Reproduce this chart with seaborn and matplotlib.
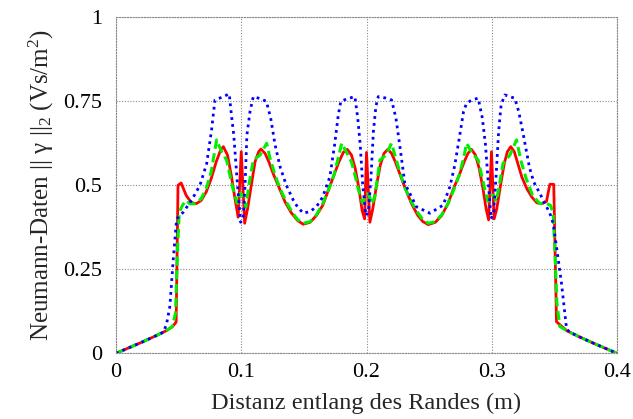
import matplotlib
matplotlib.use('Agg')
import matplotlib.pyplot as plt
import seaborn as sns
import pandas as pd

# Red solid series
red_x = [0, 0.01, 0.02, 0.03, 0.04, 0.045, 0.048, 0.0495, 0.052, 0.056, 0.060, 0.064,
         0.068, 0.072, 0.076, 0.080, 0.0835, 0.0857, 0.089, 0.092, 0.095, 0.0975, 0.1,
         0.1027, 0.105, 0.108, 0.111, 0.1139, 0.1157, 0.119, 0.122, 0.126, 0.130, 0.135,
         0.140, 0.145, 0.1495, 0.155, 0.160, 0.165, 0.170, 0.174, 0.178, 0.1815, 0.1846,
         0.188, 0.191, 0.194, 0.1965, 0.1985, 0.2, 0.2027, 0.205, 0.208, 0.211, 0.214,
         0.217, 0.220, 0.223, 0.227, 0.231, 0.236, 0.241, 0.245, 0.2493, 0.255, 0.260,
         0.265, 0.270, 0.274, 0.278, 0.281, 0.2838, 0.287, 0.290, 0.293, 0.2955, 0.2975,
         0.2998, 0.3019, 0.304, 0.307, 0.310, 0.3125, 0.3152, 0.318, 0.320, 0.324, 0.328,
         0.332, 0.336, 0.340, 0.3437, 0.3464, 0.3495, 0.3517, 0.355, 0.36, 0.37, 0.38,
         0.39, 0.4]
red_y = [0, 0.016, 0.032, 0.049, 0.067, 0.079, 0.093, 0.50, 0.507, 0.47, 0.449, 0.445,
         0.455, 0.48, 0.52, 0.57, 0.605, 0.615, 0.59, 0.53, 0.46, 0.405, 0.60,
         0.387, 0.43, 0.50, 0.57, 0.60, 0.608, 0.595, 0.57, 0.53, 0.495, 0.45,
         0.418, 0.395, 0.384, 0.39, 0.41, 0.44, 0.49, 0.53, 0.57, 0.598, 0.607,
         0.59, 0.55, 0.49, 0.425, 0.40, 0.598, 0.39, 0.43, 0.50, 0.56, 0.595,
         0.607, 0.595, 0.57, 0.53, 0.49, 0.445, 0.41, 0.392, 0.383, 0.39, 0.41,
         0.445, 0.495, 0.53, 0.57, 0.595, 0.607, 0.59, 0.55, 0.49, 0.43, 0.397,
         0.60, 0.40, 0.43, 0.50, 0.565, 0.60, 0.615, 0.60, 0.575, 0.525, 0.49,
         0.465, 0.448, 0.445, 0.452, 0.503, 0.503, 0.094, 0.083, 0.067, 0.049, 0.032,
         0.016, 0]

# Green dashed series
green_x = [0, 0.01, 0.02, 0.03, 0.04, 0.045, 0.0475, 0.049, 0.0505, 0.053, 0.056, 0.059,
           0.063, 0.068, 0.072, 0.076, 0.0803, 0.0843, 0.0883, 0.0915, 0.0936, 0.0968,
           0.0992, 0.1012, 0.1037, 0.1065, 0.1096, 0.115, 0.1203, 0.123, 0.127, 0.131,
           0.136, 0.141, 0.145, 0.1495, 0.155, 0.160, 0.165, 0.170, 0.174, 0.177, 0.1802,
           0.1845, 0.188, 0.1915, 0.194, 0.1968, 0.1995, 0.2015, 0.2042, 0.2067, 0.2107,
           0.2155, 0.2200, 0.223, 0.227, 0.231, 0.236, 0.241, 0.245, 0.2495, 0.255, 0.260,
           0.265, 0.270, 0.274, 0.2775, 0.2799, 0.2845, 0.2892, 0.2925, 0.2950, 0.297,
           0.2995, 0.3015, 0.3037, 0.3065, 0.309, 0.3145, 0.3198, 0.3235, 0.3275, 0.333,
           0.3384, 0.3437, 0.347, 0.349, 0.3505, 0.352, 0.3543, 0.36, 0.37, 0.38, 0.39, 0.4]
green_y = [0, 0.016, 0.032, 0.049, 0.067, 0.08, 0.12, 0.30, 0.42, 0.44, 0.455, 0.445,
           0.445, 0.46, 0.49, 0.54, 0.635, 0.60, 0.575, 0.52, 0.486, 0.446,
           0.476, 0.47, 0.436, 0.51, 0.575, 0.59, 0.625, 0.58, 0.53, 0.49,
           0.45, 0.418, 0.398, 0.387, 0.392, 0.412, 0.445, 0.49, 0.53, 0.575, 0.625,
           0.595, 0.57, 0.52, 0.48, 0.448, 0.465, 0.476, 0.445, 0.466, 0.575,
           0.59, 0.625, 0.585, 0.535, 0.49, 0.45, 0.418, 0.398, 0.387, 0.392, 0.412,
           0.445, 0.49, 0.53, 0.58, 0.625, 0.595, 0.575, 0.52, 0.48, 0.452,
           0.47, 0.47, 0.452, 0.51, 0.565, 0.59, 0.635, 0.57, 0.52, 0.466,
           0.446, 0.446, 0.44, 0.417, 0.30, 0.15, 0.08, 0.067, 0.049, 0.032, 0.016, 0]

# Blue dotted series
blue_x = [0, 0.01, 0.02, 0.03, 0.038, 0.0405, 0.043, 0.0457, 0.0484, 0.0537, 0.0604,
          0.067, 0.0724, 0.0763, 0.079, 0.0845, 0.0904, 0.092, 0.094, 0.097, 0.0995,
          0.1015, 0.103, 0.1045, 0.107, 0.1096, 0.115, 0.120, 0.1235, 0.127, 0.131,
          0.136, 0.1415, 0.145, 0.1495, 0.155, 0.160, 0.165, 0.1708, 0.1745, 0.1775,
          0.1795, 0.185, 0.1907, 0.193, 0.195, 0.197, 0.1995, 0.2015, 0.2035, 0.2055,
          0.2075, 0.2094, 0.2150, 0.2200, 0.2235, 0.2265, 0.2306, 0.2399, 0.2506, 0.2612,
          0.2666, 0.2705, 0.2745, 0.2775, 0.2799, 0.2845, 0.2892, 0.2925, 0.295, 0.297,
          0.2995, 0.3015, 0.3035, 0.3055, 0.3075, 0.3105, 0.3184, 0.3215, 0.325, 0.330,
          0.3335, 0.3384, 0.3425, 0.3464, 0.349, 0.3517, 0.3557, 0.3597, 0.362, 0.37,
          0.38, 0.39, 0.4]
blue_y = [0, 0.016, 0.032, 0.049, 0.063, 0.09, 0.14, 0.28, 0.40, 0.42, 0.456,
          0.500, 0.565, 0.665, 0.754, 0.762, 0.772, 0.714, 0.65, 0.50, 0.39,
          0.40, 0.50, 0.65, 0.72, 0.764, 0.758, 0.75, 0.70, 0.62, 0.555,
          0.50, 0.456, 0.435, 0.417, 0.422, 0.436, 0.465, 0.526, 0.62, 0.71,
          0.75, 0.758, 0.764, 0.70, 0.62, 0.50, 0.41, 0.42, 0.52, 0.66,
          0.735, 0.764, 0.76, 0.754, 0.70, 0.62, 0.506, 0.436, 0.417, 0.441,
          0.496, 0.56, 0.65, 0.72, 0.744, 0.755, 0.759, 0.70, 0.62, 0.52,
          0.40, 0.42, 0.53, 0.66, 0.74, 0.769, 0.759, 0.72, 0.655, 0.555,
          0.51, 0.476, 0.445, 0.417, 0.387, 0.317, 0.208, 0.074, 0.063, 0.049,
          0.032, 0.016, 0]

x_ticks = [0, 0.1, 0.2, 0.3, 0.4]
x_tick_labels = ['0', '0.1', '0.2', '0.3', '0.4']
y_ticks = [0, 0.25, 0.5, 0.75, 1]
y_tick_labels = ['0', '0.25', '0.5', '0.75', '1']

sns.set_style('white')
plt.rcParams['font.family'] = ['Liberation Serif', 'DejaVu Serif']
plt.rcParams['mathtext.fontset'] = 'custom'
plt.rcParams['mathtext.rm'] = 'Liberation Serif'
plt.rcParams['mathtext.it'] = 'Liberation Serif:italic'

fig = plt.figure(figsize=(6.33, 4.19), dpi=100)
ax = fig.add_axes([0.1833, 0.1568, 0.7914, 0.8019])

red = pd.DataFrame({'x': red_x, 'y': red_y})
green = pd.DataFrame({'x': green_x, 'y': green_y})
blue = pd.DataFrame({'x': blue_x, 'y': blue_y})

sns.lineplot(data=red, x='x', y='y', ax=ax, color='#ff0000', lw=2.0,
             estimator=None, sort=False)
sns.lineplot(data=green, x='x', y='y', ax=ax, color='#00ee00', lw=2.2,
             estimator=None, sort=False)
ax.lines[-1].set_dashes([3, 1.5])
sns.lineplot(data=blue, x='x', y='y', ax=ax, color='#0000ff', lw=2.0,
             estimator=None, sort=False)
ax.lines[-1].set_dashes([1, 1.5])

ax.set_xlim(0, 0.4)
ax.set_ylim(0, 1)
ax.set_xticks(x_ticks)
ax.set_xticklabels(x_tick_labels)
ax.set_yticks(y_ticks)
ax.set_yticklabels(y_tick_labels)
ax.tick_params(length=0, labelsize=16, colors='black')
ax.tick_params(axis='y', pad=10)
ax.tick_params(axis='x', pad=7)

ax.grid(True, color='#888888', linestyle=(0, (1, 1.5)), linewidth=0.8)
for s in ax.spines.values():
    s.set_color('#888888')
    s.set_linestyle((0, (1, 1.5)))
    s.set_linewidth(0.8)

ax.set_xlabel('Distanz entlang des Randes (m)', fontsize=17.5, labelpad=8)
ax.set_ylabel('Neumann-Daten || γ ||$_2$ (Vs/m$^2$)', fontsize=18, labelpad=5)

fig.savefig('out.png', dpi=100)
